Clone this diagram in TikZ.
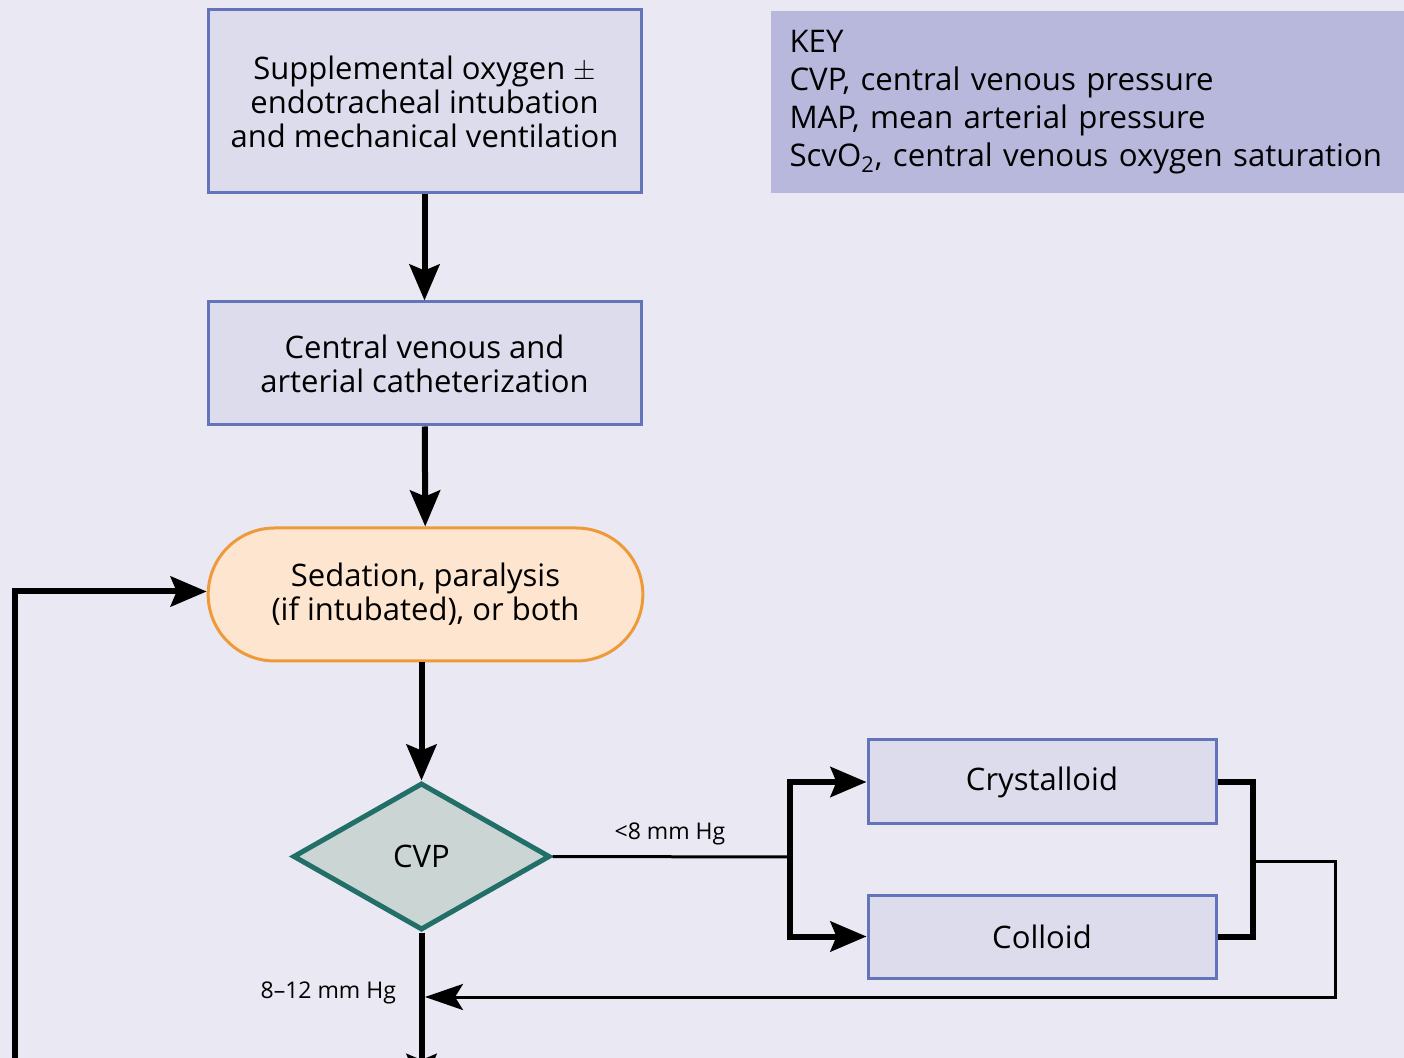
\documentclass[tikz,border=0pt]{standalone}
\usepackage{fontspec}
\setmainfont{Open Sans}
\usepackage{xcolor}
\usepackage{tikz}
\usetikzlibrary{arrows.meta,positioning,shapes.geometric,shapes.misc}

\definecolor{bgcol}{HTML}{E9E8F3}
\definecolor{boxfill}{HTML}{DCDCEC}
\definecolor{boxline}{HTML}{6474BA}
\definecolor{keyfill}{HTML}{B8B8DC}
\definecolor{termfill}{HTML}{FDE5D0}
\definecolor{termline}{HTML}{EE9A3A}
\definecolor{decfill}{HTML}{CBD6D4}
\definecolor{decline}{HTML}{226E68}

\begin{document}
\begin{tikzpicture}[
    x=0.5pt, y=-0.5pt,
    step box/.style={
        % The shape:
        rectangle,
        draw=boxline,
        line width=1.5pt,
        fill=boxfill,
        minimum width=216.5pt,
        align=center,
        % The fonts
        font=\fontsize{15.5}{17}\selectfont},
    terminal/.style={
        rounded rectangle,
        draw=termline,
        line width=1.5pt,
        fill=termfill,
        minimum width=224pt,
        minimum height=66.5pt,
        align=center,
        font=\fontsize{15.5}{17}\selectfont},
    decision/.style={
        diamond,
        draw=decline,
        line width=2.5pt,
        fill=decfill,
        minimum width=128.5pt,
        minimum height=73.5pt,
        inner sep=0pt,
        font=\fontsize{15.5}{17}\selectfont},
    flow/.style={line width=3pt,
        -{Stealth[length=18pt,width=15pt,inset=3pt]}},
    bar/.style={line width=3pt},
    thin flow/.style={line width=1.5pt,
        -{Stealth[length=19pt,width=13pt,inset=4pt]}},
    thin bar/.style={line width=1.5pt},
    level/.style={font=\fontsize{11.5}{13}\selectfont}
  ]
  \useasboundingbox (0,0) rectangle (1404,1058);
  \clip (0,0) rectangle (1404,1058);
  \fill[bgcol] (0,0) rectangle (1404,1058);

  % key
  \node (key) [fill=keyfill, minimum width=316.5pt, minimum height=91pt,
    text width=298pt, align=left, inner sep=0pt,
    font=\fontsize{15.6}{19}\selectfont] at (1087.5,102)
    {KEY\\CVP, central venous pressure\\MAP, mean arterial pressure\\
     ScvO\textsubscript{2}, central venous oxygen saturation};

  % main column
  \node (oxygen) [step box, minimum height=91.5pt] at (424.5,101.5)
    {Supplemental oxygen $\pm$\\endotracheal intubation\\and mechanical ventilation};
  \node (cath) [step box, minimum height=61.5pt] at (424.5,363.5)
    {Central venous and\\arterial catheterization};
  \node (sedation) [terminal] at (425.5,594.5)
    {Sedation, paralysis\\(if intubated), or both};
  \node (cvp) [decision] at (421.5,856.5) {CVP};

  % fluids
  \node (crys) [step box, minimum width=174pt, minimum height=42pt] at (1042,782) {Crystalloid};
  \node (coll) [step box, minimum width=174pt, minimum height=41.5pt] at (1042,936.5) {Colloid};

  \coordinate (split) at (790,857);
  \coordinate (join) at (1253,862);
  \coordinate (back) at (1335,862);
  \coordinate (merge) at (425,997);
  \coordinate (out) at (421.5,1090);
  \coordinate (loop) at (15,1070);

  \draw[flow] (oxygen) -- (cath);
  \draw[flow] (cath) -- (sedation);
  \draw[flow] (sedation.south -| cvp.north) -- (cvp.north);
  \draw[thin bar] (cvp.east) -- (split);
  \draw[flow] (split) |- (crys.west);
  \draw[flow] (split) |- (coll.west);
  \draw[bar] (crys.east) -| (join) |- (coll.east);
  \draw[thin flow] (join) -- (back) |- (merge);
  \draw[flow] (cvp.south) -- (out);
  \draw[flow] (loop) |- ([yshift=1.5pt]sedation.west);

  \node [level] at (670,834) {<8 mm Hg};
  \node [level, anchor=east] at (403,993) {8--12 mm Hg};
\end{tikzpicture}
\end{document}
